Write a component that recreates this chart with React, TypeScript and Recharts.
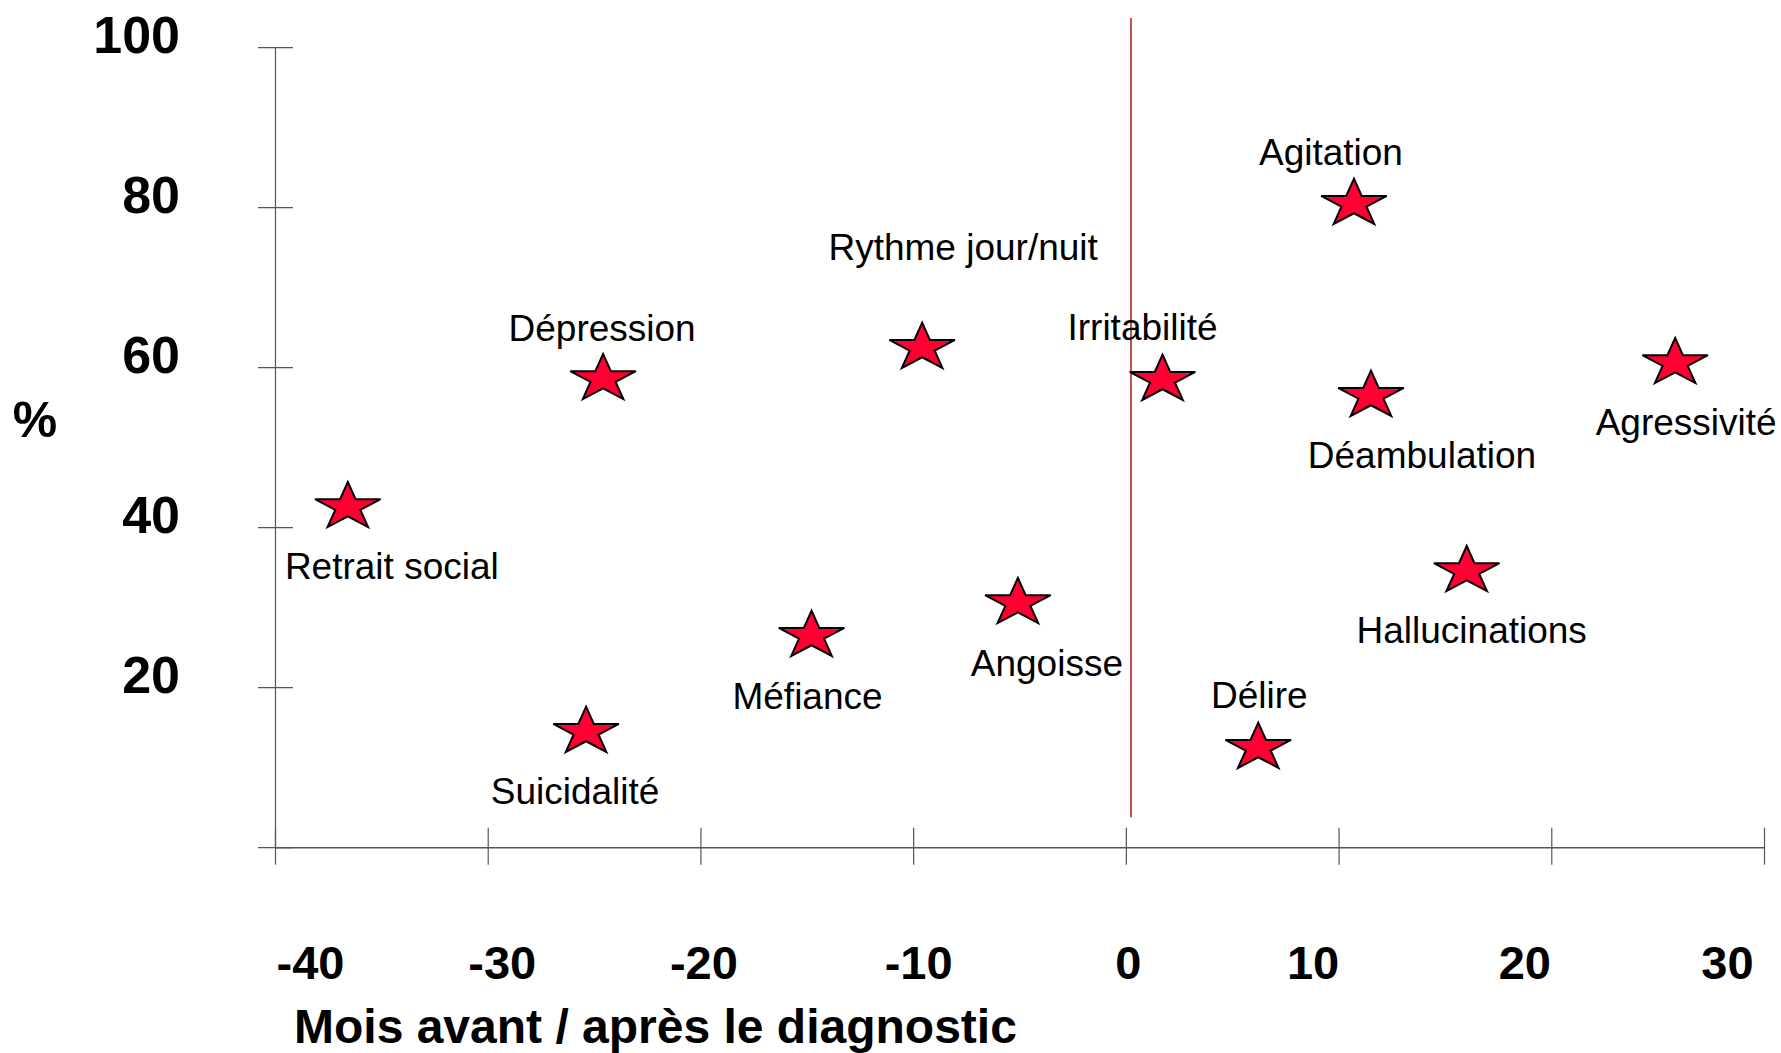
import { ScatterChart, Scatter, XAxis, YAxis, ReferenceLine, Label } from 'recharts';

document.body.style.margin = '0';

const SYMPTOMS = [
  'Retrait social', 'Dépression', 'Suicidalité', 'Méfiance', 'Rythme jour/nuit', 'Angoisse',
  'Irritabilité', 'Délire', 'Agitation', 'Déambulation', 'Hallucinations', 'Agressivité',
];
// months before (-) / after (+) diagnosis
const MONTHS = [-36.6, -24.6, -25.4, -14.8, -9.6, -5.1, 1.7, 6.2, 10.7, 11.5, 16.0, 25.8];
// % of patients
const PERCENT = [42.6, 58.6, 14.5, 26.5, 62.5, 30.6, 58.5, 12.5, 80.5, 56.5, 34.6, 60.6];
const X_TICKS = [-40, -30, -20, -10, 0, 10, 20, 30];
const Y_TICKS = [0, 20, 40, 60, 80, 100];
const DIAGNOSIS = 0.22;

// where each name sits next to its star: [dx to text centre, dy to baseline]
const LABEL_POS: Record<string, [number, number]> = {
  'Retrait social': [44, 72],
  'Dépression': [-1, -38],
  'Suicidalité': [-11, 72],
  'Méfiance': [-4, 73],
  'Rythme jour/nuit': [41, -88],
  'Angoisse': [29, 73],
  'Irritabilité': [-20, -40],
  'Délire': [1, -40],
  'Agitation': [-23, -39],
  'Déambulation': [51, 72],
  'Hallucinations': [5, 72],
  'Agressivité': [11, 72],
};
// the month labels are not exactly centred under their ticks in the original
const X_LABEL_SHIFT: Record<number, number> = {
  '-40': 35, '-30': 14, '-20': 3, '-10': 5, '0': 2, '10': -26, '20': -27, '30': -37,
};

const data = SYMPTOMS.map((name, i) => ({ name, month: MONTHS[i], pct: PERCENT[i] }));

const FONT = '"Liberation Sans", Arial, sans-serif';
const AXIS = '#555';
const PLOT = { left: 275.5, top: 47.7, right: 1764.5, bottom: 847.7 };
const W = 1781;
const H = 1053;

function starPath(cx: number, cy: number, rx: number, ry: number) {
  const pts: string[] = [];
  for (let i = 0; i < 10; i++) {
    const a = -Math.PI / 2 + (i * Math.PI) / 5;
    const k = i % 2 === 0 ? 1 : 0.382;
    pts.push(`${cx + Math.cos(a) * rx * k},${cy + Math.sin(a) * ry * k}`);
  }
  return 'M' + pts.join('L') + 'Z';
}

const StarShape = (props: any) => {
  const { cx, cy, payload } = props;
  const [dx, dy] = LABEL_POS[payload.name] ?? [0, 70];
  return (
    <g>
      <path d={starPath(cx, cy, 34.5, 25)} fill="#FF0033" stroke="#000" strokeWidth={2} strokeLinejoin="miter" />
      <text x={cx + dx} y={cy + dy} textAnchor="middle" fontFamily={FONT} fontSize={37} fill="#000">
        {payload.name}
      </text>
    </g>
  );
};

const XTick = (props: any) => {
  const { x, payload } = props;
  const v = payload.value;
  return (
    <g>
      <line x1={x} x2={x} y1={PLOT.bottom - 20} y2={PLOT.bottom + 17} stroke={AXIS} strokeWidth={1.2} />
      <text x={x + (X_LABEL_SHIFT[v] ?? 0)} y={979} textAnchor="middle" fontFamily={FONT} fontWeight="bold" fontSize={47} fill="#000">
        {v}
      </text>
    </g>
  );
};

const YTick = (props: any) => {
  const { y, payload } = props;
  const v = payload.value;
  return (
    <g>
      <line x1={PLOT.left - 17.5} x2={PLOT.left + 17.5} y1={y} y2={y} stroke={AXIS} strokeWidth={1.2} />
      {v !== 0 && (
        <text x={180} y={y + 5.7} textAnchor="end" fontFamily={FONT} fontWeight="bold" fontSize={52} fill="#000">
          {v}
        </text>
      )}
    </g>
  );
};

export default function App() {
  return (
    <div style={{ width: W, height: H, background: '#fff' }}>
      <ScatterChart
        width={W}
        height={H}
        margin={{ top: PLOT.top, right: W - PLOT.right, left: PLOT.left - 100, bottom: H - PLOT.bottom - 100 }}
      >
        <XAxis
          type="number"
          dataKey="month"
          domain={[-40, 30]}
          ticks={X_TICKS}
          interval={0}
          height={100}
          tickLine={false}
          tickSize={0}
          tickMargin={0}
          axisLine={{ stroke: AXIS, strokeWidth: 1.6 }}
          tick={<XTick />}
        >
          <Label
            content={() => (
              <text x={294} y={1043} fontFamily={FONT} fontWeight="bold" fontSize={48} fill="#000">
                Mois avant / après le diagnostic
              </text>
            )}
          />
        </XAxis>
        <YAxis
          type="number"
          dataKey="pct"
          domain={[0, 100]}
          ticks={Y_TICKS}
          interval={0}
          width={100}
          tickLine={false}
          tickSize={0}
          tickMargin={0}
          axisLine={{ stroke: AXIS, strokeWidth: 1.2 }}
          tick={<YTick />}
        >
          <Label
            content={() => (
              <text x={35} y={437} textAnchor="middle" fontFamily={FONT} fontWeight="bold" fontSize={50} fill="#000">
                %
              </text>
            )}
          />
        </YAxis>
        <ReferenceLine
          segment={[{ x: DIAGNOSIS, y: 3.8 }, { x: DIAGNOSIS, y: 103.7 }]}
          stroke="#C0504D"
          strokeWidth={2}
          ifOverflow="visible"
        />
        <Scatter data={data} shape={<StarShape />} isAnimationActive={false} />
      </ScatterChart>
    </div>
  );
}
